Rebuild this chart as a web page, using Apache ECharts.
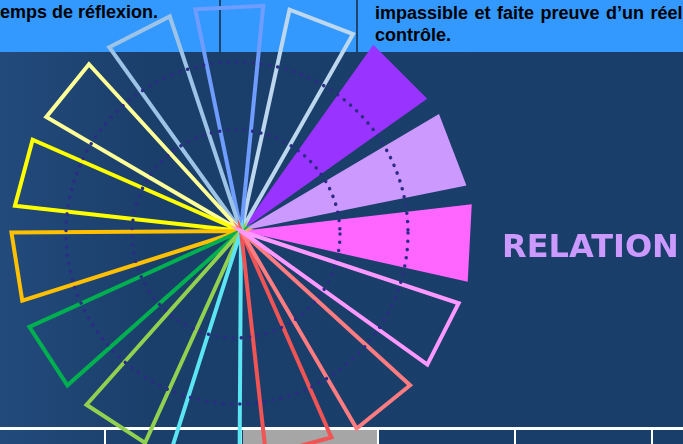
<!DOCTYPE html>
<html><head><meta charset="utf-8">
<script src="https://cdn.jsdelivr.net/npm/echarts@6/dist/echarts.min.js"></script>
<style>
html,body{margin:0;padding:0;width:683px;height:444px;overflow:hidden;background:#1A3E6A;}
#bg{position:absolute;left:0;top:0;width:683px;height:444px;background:linear-gradient(to right,#224A7B 0px,#1B3F6B 150px,#1A3E6A 683px);}
#hdr{position:absolute;left:0;top:0;width:683px;height:52px;background:#3399FF;}
.vl{position:absolute;top:0;height:52px;width:2px;background:#1E4470;}
.t{position:absolute;font-family:"Liberation Sans",Arial,sans-serif;font-weight:bold;font-size:18px;color:#000;white-space:nowrap;line-height:22px;}
.hl{position:absolute;left:0;top:427px;width:683px;height:2.5px;background:#FFFFFF;}
.tv{position:absolute;top:428px;height:16px;width:2px;background:#FFFFFF;}
#grey{position:absolute;left:243px;top:430px;width:134px;height:14px;background:#A6A6A6;}
#chart{position:absolute;left:0;top:0;width:683px;height:444px;}
</style></head>
<body>
<div id="bg"></div>
<div id="hdr"></div>
<div class="vl" style="left:219px"></div>
<div class="vl" style="left:356px"></div>
<div class="t" style="left:-6px;top:1px;">temps de réflexion.</div>
<div class="t" style="left:375px;top:2px;word-spacing:1.5px;">impassible et faite preuve d’un réel<br>contrôle.</div>
<div class="hl"></div>
<div id="grey"></div>
<div class="tv" style="left:104px"></div>
<div class="tv" style="left:240px"></div>
<div class="tv" style="left:377px"></div>
<div class="tv" style="left:514px"></div>
<div class="tv" style="left:651px"></div>
<div id="chart"></div>
<script>
// ---- data ----
const categories = ['Magenta','Lilas','Violet','Bleu pâle','Bleu','Bleu acier','Jaune pâle','Jaune','Orange','Vert','Vert clair','Cyan','Rouge','Saumon','Rose'];
const values = [101, 100, 99.3, 98.5, 98.4, 98.3, 98.1, 98.9, 99.8, 101, 101.1, 101, 98, 99.5, 99.7];
const ringValues = [104, 171];

// ---- styles ----
const colors = ['#FF66FF','#CC99FF','#9933FF','#BDD7EE','#6F9DFF','#9DC3E6','#FFFF99','#FFFF00','#FFC000','#00B050','#92D050','#5CE5F2','#F05454','#FF7C80','#FF99FF'];
const filled = [true,true,true,false,false,false,false,false,false,false,false,false,false,false,false];
const FILL_FRACTION = 0.8;
const LINE_FRACTION = 0.72;

function renderItem(params, api){
  const cs = params.coordSys;
  const v = api.value(0);
  const idx = api.value(1);
  const i = params.dataIndex;
  const p = api.coord([v, idx]);
  const band = api.size([0, 1], [v, idx])[1];
  const cx = cs.cx, cy = cs.cy;
  const a = Math.atan2(p[1]-cy, p[0]-cx);
  const r = Math.hypot(p[0]-cx, p[1]-cy);
  const h = band*(filled[i] ? FILL_FRACTION : LINE_FRACTION)/2;
  const pts = [[cx,cy],[cx+r*Math.cos(a-h), cy+r*Math.sin(a-h)],[cx+r*Math.cos(a+h), cy+r*Math.sin(a+h)]];
  return {
    type:'polygon', shape:{points:pts},
    style: filled[i] ? {fill: colors[i]} : {fill:'none', stroke: colors[i], lineWidth:4, lineJoin:'miter', miterLimit:10}
  };
}

const dotted = {color:'#2C2C86', width:3.5, type:[0.1, 8.2], cap:'round'};
const chart = echarts.init(document.getElementById('chart'), null, {renderer:'canvas'});
chart.setOption({
  backgroundColor:'transparent',
  animation:false,
  polar:[
    {center:[241,231], radius:230},
    {center:[236,234], radius:ringValues[0]},
    {center:[237,233], radius:ringValues[1]}
  ],
  angleAxis:[
    {polarIndex:0, type:'category', data:categories, startAngle:345, clockwise:false, show:false},
    {polarIndex:1, type:'value', min:0, max:360, z:10, axisLine:{show:true, lineStyle:dotted}, axisTick:{show:false}, axisLabel:{show:false}, splitLine:{show:false}},
    {polarIndex:2, type:'value', min:0, max:360, z:10, axisLine:{show:true, lineStyle:dotted}, axisTick:{show:false}, axisLabel:{show:false}, splitLine:{show:false}}
  ],
  radiusAxis:[
    {polarIndex:0, type:'value', min:0, max:100, show:false},
    {polarIndex:1, type:'value', min:0, max:1, show:false},
    {polarIndex:2, type:'value', min:0, max:1, show:false}
  ],
  series:[{
    type:'custom', coordinateSystem:'polar', polarIndex:0, z:2,
    renderItem: renderItem,
    data: values.map((v,i)=>[v, categories[i]])
  }],
  graphic:[{
    type:'text', x:502, y:249,
    style:{text:'RELATION', fill:'#CC99FF', font:'bold 32px "DejaVu Sans"', verticalAlign:'middle'}
  }]
});
</script>
</body></html>
